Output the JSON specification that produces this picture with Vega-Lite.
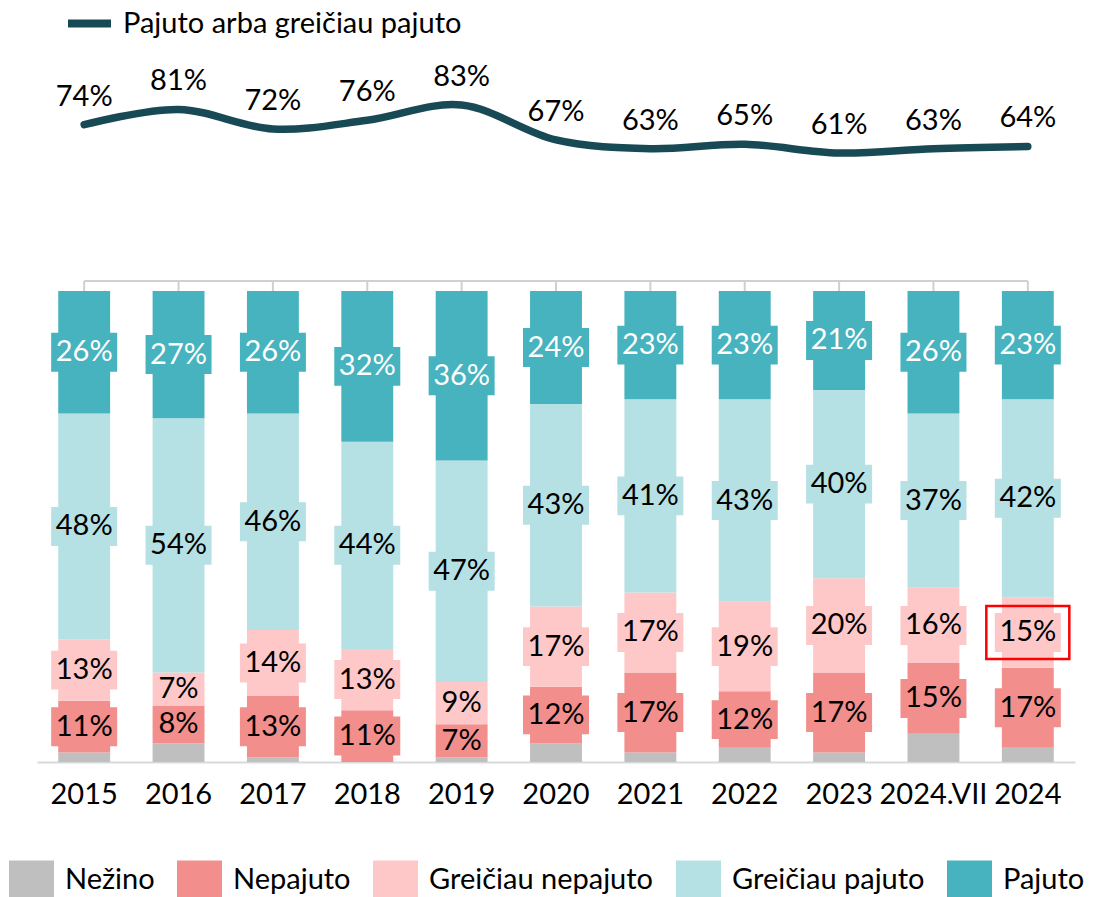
{
  "$schema": "https://vega.github.io/schema/vega-lite/v6.json",
  "width": 1038,
  "height": 702,
  "autosize": {"type": "none"},
  "padding": {"left": 37, "top": 60, "right": 27, "bottom": 135},
  "background": "white",
  "config": {"font": "Lato", "view": {"stroke": null}},
  "datasets": {
    "cats": [
      {"cat": "Nežino", "rank": 1},
      {"cat": "Nepajuto", "rank": 2},
      {"cat": "Greičiau nepajuto", "rank": 3},
      {"cat": "Greičiau pajuto", "rank": 4},
      {"cat": "Pajuto", "rank": 5}
    ],
    "bars": [
      {"year": "2015", "cat": "Nežino", "value": 0.02},
      {"year": "2015", "cat": "Nepajuto", "value": 0.11},
      {"year": "2015", "cat": "Greičiau nepajuto", "value": 0.13},
      {"year": "2015", "cat": "Greičiau pajuto", "value": 0.48},
      {"year": "2015", "cat": "Pajuto", "value": 0.26},
      {"year": "2016", "cat": "Nežino", "value": 0.04},
      {"year": "2016", "cat": "Nepajuto", "value": 0.08},
      {"year": "2016", "cat": "Greičiau nepajuto", "value": 0.07},
      {"year": "2016", "cat": "Greičiau pajuto", "value": 0.54},
      {"year": "2016", "cat": "Pajuto", "value": 0.27},
      {"year": "2017", "cat": "Nežino", "value": 0.01},
      {"year": "2017", "cat": "Nepajuto", "value": 0.13},
      {"year": "2017", "cat": "Greičiau nepajuto", "value": 0.14},
      {"year": "2017", "cat": "Greičiau pajuto", "value": 0.46},
      {"year": "2017", "cat": "Pajuto", "value": 0.26},
      {"year": "2018", "cat": "Nežino", "value": 0.0},
      {"year": "2018", "cat": "Nepajuto", "value": 0.11},
      {"year": "2018", "cat": "Greičiau nepajuto", "value": 0.13},
      {"year": "2018", "cat": "Greičiau pajuto", "value": 0.44},
      {"year": "2018", "cat": "Pajuto", "value": 0.32},
      {"year": "2019", "cat": "Nežino", "value": 0.01},
      {"year": "2019", "cat": "Nepajuto", "value": 0.07},
      {"year": "2019", "cat": "Greičiau nepajuto", "value": 0.09},
      {"year": "2019", "cat": "Greičiau pajuto", "value": 0.47},
      {"year": "2019", "cat": "Pajuto", "value": 0.36},
      {"year": "2020", "cat": "Nežino", "value": 0.04},
      {"year": "2020", "cat": "Nepajuto", "value": 0.12},
      {"year": "2020", "cat": "Greičiau nepajuto", "value": 0.17},
      {"year": "2020", "cat": "Greičiau pajuto", "value": 0.43},
      {"year": "2020", "cat": "Pajuto", "value": 0.24},
      {"year": "2021", "cat": "Nežino", "value": 0.02},
      {"year": "2021", "cat": "Nepajuto", "value": 0.17},
      {"year": "2021", "cat": "Greičiau nepajuto", "value": 0.17},
      {"year": "2021", "cat": "Greičiau pajuto", "value": 0.41},
      {"year": "2021", "cat": "Pajuto", "value": 0.23},
      {"year": "2022", "cat": "Nežino", "value": 0.03},
      {"year": "2022", "cat": "Nepajuto", "value": 0.12},
      {"year": "2022", "cat": "Greičiau nepajuto", "value": 0.19},
      {"year": "2022", "cat": "Greičiau pajuto", "value": 0.43},
      {"year": "2022", "cat": "Pajuto", "value": 0.23},
      {"year": "2023", "cat": "Nežino", "value": 0.02},
      {"year": "2023", "cat": "Nepajuto", "value": 0.17},
      {"year": "2023", "cat": "Greičiau nepajuto", "value": 0.20},
      {"year": "2023", "cat": "Greičiau pajuto", "value": 0.40},
      {"year": "2023", "cat": "Pajuto", "value": 0.21},
      {"year": "2024.VII", "cat": "Nežino", "value": 0.06},
      {"year": "2024.VII", "cat": "Nepajuto", "value": 0.15},
      {"year": "2024.VII", "cat": "Greičiau nepajuto", "value": 0.16},
      {"year": "2024.VII", "cat": "Greičiau pajuto", "value": 0.37},
      {"year": "2024.VII", "cat": "Pajuto", "value": 0.26},
      {"year": "2024", "cat": "Nežino", "value": 0.03},
      {"year": "2024", "cat": "Nepajuto", "value": 0.17},
      {"year": "2024", "cat": "Greičiau nepajuto", "value": 0.15},
      {"year": "2024", "cat": "Greičiau pajuto", "value": 0.42},
      {"year": "2024", "cat": "Pajuto", "value": 0.23}
    ],
    "line": [
      {"year": "2015", "v": 0.74},
      {"year": "2016", "v": 0.81},
      {"year": "2017", "v": 0.72},
      {"year": "2018", "v": 0.76},
      {"year": "2019", "v": 0.83},
      {"year": "2020", "v": 0.67},
      {"year": "2021", "v": 0.63},
      {"year": "2022", "v": 0.65},
      {"year": "2023", "v": 0.61},
      {"year": "2024.VII", "v": 0.63},
      {"year": "2024", "v": 0.64}
    ]
  },
  "encoding": {
    "x": {
      "field": "year",
      "type": "nominal",
      "scale": {
        "domain": ["2015", "2016", "2017", "2018", "2019", "2020", "2021", "2022", "2023", "2024.VII", "2024"],
        "paddingInner": 0.45,
        "paddingOuter": 0.225
      },
      "axis": {
        "title": null,
        "labelAngle": 0,
        "ticks": false,
        "domainColor": "#D9D9D9",
        "domainWidth": 2,
        "labelFontSize": 29,
        "labelColor": "black",
        "labelPadding": 18
      }
    }
  },
  "layer": [
    {
      "data": {"name": "bars"},
      "transform": [
        {"lookup": "cat", "from": {"data": {"name": "cats"}, "key": "cat", "fields": ["rank"]}}
      ],
      "layer": [
        {
          "mark": {"type": "bar"},
          "encoding": {
            "y": {"field": "value", "type": "quantitative", "stack": "zero", "scale": {"domain": [0, 1.4904], "nice": false}, "axis": null},
            "color": {
              "field": "cat",
              "type": "nominal",
              "scale": {
                "domain": ["Nežino", "Nepajuto", "Greičiau nepajuto", "Greičiau pajuto", "Pajuto"],
                "range": ["#BFBFBF", "#F28E8B", "#FEC8C8", "#B5E0E4", "#46B3BE"]
              },
              "legend": {
                "orient": "none",
                "direction": "horizontal",
                "legendX": -28,
                "legendY": 797,
                "title": null,
                "symbolType": "M-1,-0.85H1V0.85H-1Z",
                "symbolSize": 2025,
                "symbolStrokeWidth": 0,
                "symbolOpacity": 1,
                "labelFontSize": 29,
                "labelColor": "black",
                "labelOffset": 11,
                "columnPadding": 22,
                "labelLimit": 400,
                "padding": 0
              }
            },
            "order": {"field": "rank", "type": "quantitative"}
          }
        },
        {
          "mark": {"type": "point", "shape": "M-1,-0.59H1V0.59H-1Z", "filled": true, "opacity": 1, "strokeWidth": 0},
          "encoding": {
            "y": {"field": "value", "type": "quantitative", "stack": "zero", "bandPosition": 0.5, "scale": {"domain": [0, 1.4904], "nice": false}, "axis": null},
            "color": {"field": "cat", "type": "nominal"},
            "order": {"field": "rank", "type": "quantitative"},
            "size": {"condition": {"test": "datum.value >= 0.095 && datum.rank > 1", "value": 4356}, "value": 0}
          }
        },
        {
          "mark": {"type": "text", "fontSize": 29, "baseline": "middle", "align": "center"},
          "encoding": {
            "y": {"field": "value", "type": "quantitative", "stack": "zero", "bandPosition": 0.5, "scale": {"domain": [0, 1.4904], "nice": false}, "axis": null},
            "detail": {"field": "cat", "type": "nominal"},
            "order": {"field": "rank", "type": "quantitative"},
            "text": {"field": "value", "type": "quantitative", "format": ".0%", "condition": {"test": "datum.rank === 1", "value": ""}},
            "color": {"condition": {"test": "datum.rank === 5", "value": "white"}, "value": "black"}
          }
        },
        {
          "mark": {"type": "point", "shape": "M-1,-0.64H1V0.64H-1Z", "filled": false, "stroke": "#FF0000", "strokeWidth": 2.5, "size": 6889},
          "encoding": {
            "y": {"field": "value", "type": "quantitative", "stack": "zero", "bandPosition": 0.5, "scale": {"domain": [0, 1.4904], "nice": false}, "axis": null},
            "detail": {"field": "cat", "type": "nominal"},
            "order": {"field": "rank", "type": "quantitative"},
            "opacity": {"condition": {"test": "datum.year === '2024' && datum.rank === 3", "value": 1}, "value": 0}
          }
        },
        {
          "transform": [{"filter": "datum.rank === 5"}],
          "mark": {"type": "rule", "color": "#D0D0D0", "strokeWidth": 2},
          "encoding": {
            "y": {"datum": 1, "type": "quantitative", "scale": {"domain": [0, 1.4904], "nice": false}, "axis": null},
            "y2": {"datum": 1.0212}
          }
        },
        {
          "transform": [{"filter": "datum.rank === 5 && datum.year === '2015'"}],
          "mark": {"type": "rule", "color": "#D0D0D0", "strokeWidth": 2},
          "encoding": {
            "x": {"datum": "2015", "type": "nominal"},
            "x2": {"datum": "2024"},
            "y": {"datum": 1.0212, "type": "quantitative", "scale": {"domain": [0, 1.4904], "nice": false}, "axis": null}
          }
        }
      ]
    },
    {
      "data": {"name": "line"},
      "layer": [
        {
          "mark": {"type": "line", "interpolate": "cardinal", "strokeWidth": 7.5, "strokeCap": "round"},
          "encoding": {
            "y": {"field": "v", "type": "quantitative", "scale": {"domain": [-2.1835, 1.0367], "nice": false, "zero": false}, "axis": null},
            "stroke": {
              "datum": "Pajuto arba greičiau pajuto",
              "type": "nominal",
              "scale": {"range": ["#174A54"]},
              "legend": {
                "orient": "none",
                "legendX": 27,
                "legendY": -62,
                "title": null,
                "symbolType": "stroke",
                "symbolSize": 1849,
                "symbolStrokeWidth": 8,
                "labelFontSize": 29,
                "labelColor": "black",
                "labelOffset": 8,
                "labelLimit": 500,
                "padding": 0
              }
            }
          }
        },
        {
          "mark": {"type": "text", "fontSize": 29, "baseline": "alphabetic", "align": "center", "dy": -19, "color": "black"},
          "encoding": {
            "y": {"field": "v", "type": "quantitative", "scale": {"domain": [-2.1835, 1.0367], "nice": false, "zero": false}, "axis": null},
            "text": {"field": "v", "type": "quantitative", "format": ".0%"}
          }
        }
      ]
    }
  ],
  "resolve": {"scale": {"y": "independent"}}
}
